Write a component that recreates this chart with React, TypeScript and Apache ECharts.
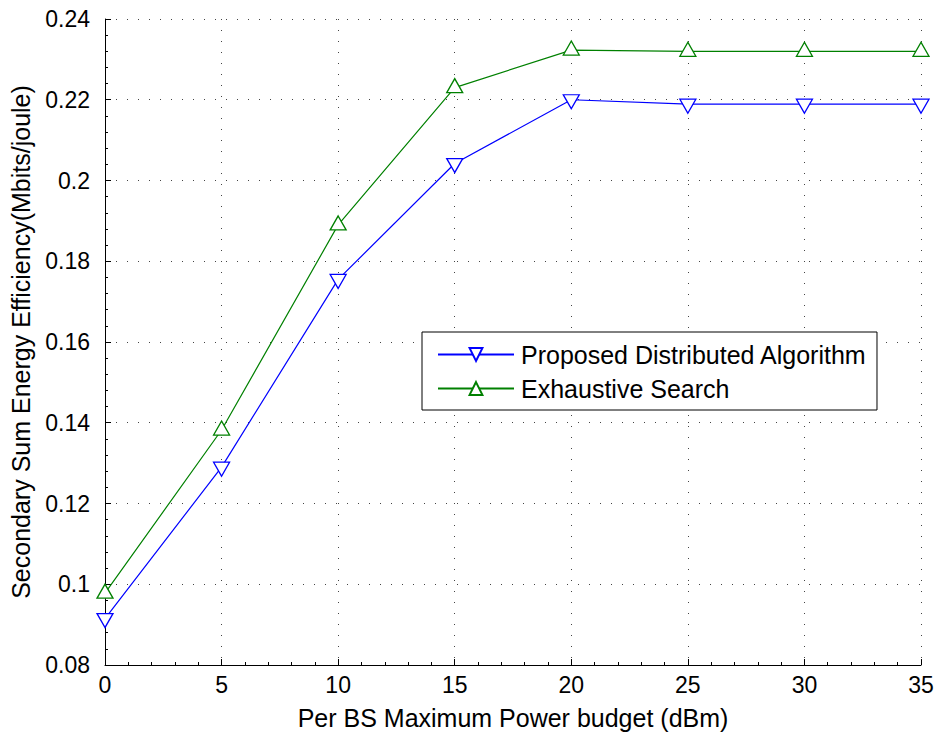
import React, { useEffect, useRef } from "react";
import * as echarts from "echarts";

const xValues = [0, 5, 10, 15, 20, 25, 30, 35];
const proposed = [0.0915, 0.129, 0.1755, 0.2042, 0.22, 0.2189, 0.2189, 0.2189];
const exhaustive = [0.0978, 0.1382, 0.189, 0.223, 0.2323, 0.232, 0.232, 0.232];
const seriesNames = ["Proposed Distributed Algorithm", "Exhaustive Search"];
const xTitle = "Per BS Maximum Power budget (dBm)";
const yTitle = "Secondary Sum Energy Efficiency(Mbits/joule)";

const FONT = "Liberation Sans, Arial, Helvetica, sans-serif";

export default function App() {
  const ref = useRef<HTMLDivElement>(null);
  useEffect(() => {
    if (!ref.current) return;
    const chart = echarts.init(ref.current, undefined, { renderer: "svg" });
    const gridLine = { show: true, lineStyle: { color: "#444", type: [1, 10], width: 1 } };
    chart.setOption({
      animation: false,
      backgroundColor: "#fff",
      grid: { left: 105, right: 23, top: 19, bottom: 72 },
      legend: {
        left: 422,
        top: 332,
        orient: "vertical",
        backgroundColor: "#fff",
        borderColor: "#000",
        borderWidth: 1,
        borderRadius: 0,
        padding: [10, 10, 9, 15],
        itemGap: 9,
        itemWidth: 76,
        itemHeight: 16,
        textStyle: { fontFamily: FONT, fontSize: 25, color: "#000", padding: [0, 0, 0, 2] },
        data: seriesNames,
      },
      xAxis: {
        type: "value",
        min: 0,
        max: 35,
        interval: 5,
        name: xTitle,
        nameLocation: "middle",
        nameGap: 40,
        nameTextStyle: { fontFamily: FONT, fontSize: 25, color: "#000" },
        axisLine: { show: true, onZero: false, lineStyle: { color: "#000", width: 1 } },
        axisTick: { show: true, inside: true, length: 6, lineStyle: { color: "#000" } },
        minorTick: { show: true, splitNumber: 5, length: 3, lineStyle: { color: "#000" } },
        axisLabel: { fontFamily: FONT, fontSize: 23, color: "#000", margin: 8 },
        splitLine: gridLine,
      },
      yAxis: {
        type: "value",
        min: 0.08,
        max: 0.24,
        interval: 0.02,
        name: yTitle,
        nameLocation: "middle",
        nameGap: 72,
        nameTextStyle: { fontFamily: FONT, fontSize: 25, color: "#000" },
        axisLine: { show: true, onZero: false, lineStyle: { color: "#000", width: 1 } },
        axisTick: { show: true, inside: true, length: 6, lineStyle: { color: "#000" } },
        minorTick: { show: true, splitNumber: 5, length: 3, lineStyle: { color: "#000" } },
        axisLabel: { fontFamily: FONT, fontSize: 23, color: "#000", margin: 15 },
        splitLine: gridLine,
      },
      series: [
        {
          name: seriesNames[0],
          type: "line",
          data: xValues.map((x, i) => [x, proposed[i]]),
          symbol: "triangle",
          symbolRotate: 180,
          symbolSize: [16, 14],
          symbolOffset: [0, 2],
          showAllSymbol: true,
          lineStyle: { color: "#0000ff", width: 1.2 },
          itemStyle: { color: "#fff", borderColor: "#0000ff", borderWidth: 1.3 },
          z: 3,
        },
        {
          name: seriesNames[1],
          type: "line",
          data: xValues.map((x, i) => [x, exhaustive[i]]),
          symbol: "triangle",
          symbolSize: [16, 14],
          symbolOffset: [0, -2],
          showAllSymbol: true,
          lineStyle: { color: "#008000", width: 1.2 },
          itemStyle: { color: "#fff", borderColor: "#008000", borderWidth: 1.3 },
          z: 3,
        },
      ],
    });
    return () => chart.dispose();
  }, []);
  return <div ref={ref} style={{ width: 944, height: 737, position: "absolute", left: 0, top: 0 }} />;
}
